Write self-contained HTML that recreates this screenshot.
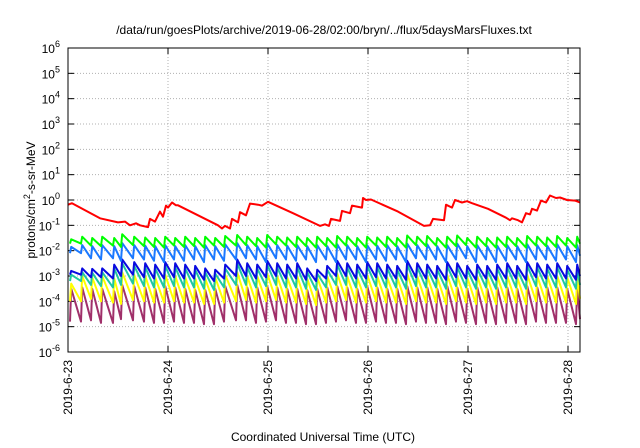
<!DOCTYPE html>
<html><head><meta charset="utf-8"><style>
body{margin:0;background:#fff;}
svg{display:block;font-family:"Liberation Sans",sans-serif;}
</style></head><body>
<svg id="chart" width="640" height="448" viewBox="0 0 640 448">
<text x="324" y="34" font-size="12" text-anchor="middle" fill="#000">/data/run/goesPlots/archive/2019-06-28/02:00/bryn/../flux/5daysMarsFluxes.txt</text>
<g id="grid"></g>
<g id="yticks"></g>
<g id="xticks"></g>
<g id="series"></g>
<rect x="68" y="48" width="512" height="304" fill="none" stroke="#000" stroke-width="1"/>
<text transform="translate(35,200) rotate(-90)" font-size="12" text-anchor="middle">protons/cm<tspan dy="-5" font-size="9">2</tspan><tspan dy="5">-s-sr-MeV</tspan></text>
<text x="323" y="441" font-size="12" text-anchor="middle">Coordinated Universal Time (UTC)</text>
</svg>
<script>
const yTickExps=[-6,-5,-4,-3,-2,-1,0,1,2,3,4,5,6];
const xTickDays=[23,24,25,26,27,28];
const xTickLabels=["2019-6-23","2019-6-24","2019-6-25","2019-6-26","2019-6-27","2019-6-28"];
const redTimes=[23.00,23.04,23.32,23.50,23.57,23.62,23.68,23.72,23.80,23.82,23.87,23.92,23.95,23.98,24.00,24.04,24.08,24.10,24.30,24.50,24.54,24.57,24.62,24.64,24.70,24.72,24.78,24.82,24.90,24.94,25.00,25.25,25.52,25.57,25.61,25.63,25.72,25.74,25.82,25.84,25.94,25.95,25.98,26.03,26.30,26.56,26.62,26.65,26.76,26.78,26.84,26.87,26.94,26.99,27.04,27.20,27.38,27.42,27.44,27.50,27.54,27.58,27.62,27.64,27.69,27.73,27.78,27.82,27.88,27.92,27.99,28.07,28.12];
const redValues=[0.65,0.75,0.19,0.13,0.14,0.10,0.12,0.10,0.085,0.18,0.14,0.35,0.22,0.6,0.5,0.8,0.62,0.62,0.25,0.1,0.075,0.095,0.075,0.18,0.13,0.33,0.25,0.72,0.65,0.6,0.85,0.3,0.095,0.11,0.095,0.18,0.15,0.37,0.3,0.6,0.5,1.2,1.0,1.05,0.35,0.095,0.1,0.18,0.16,0.65,0.5,1.0,0.8,0.9,0.75,0.45,0.2,0.16,0.19,0.16,0.13,0.3,0.27,0.45,0.38,0.95,0.8,1.5,1.2,1.25,1.0,0.95,0.8];
const eventTimes=[23.02,23.13,23.23,23.33,23.45,23.53,23.65,23.76,23.86,23.96,24.06,24.16,24.26,24.36,24.46,24.56,24.68,24.78,24.88,24.98,25.08,25.18,25.28,25.38,25.48,25.58,25.68,25.78,25.88,25.98,26.08,26.18,26.28,26.38,26.48,26.58,26.68,26.78,26.88,26.98,27.08,27.18,27.28,27.38,27.48,27.58,27.68,27.78,27.88,27.98,28.08];
const greenPeakLog=[-1.55,-1.45,-1.5,-1.45,-1.5,-1.35,-1.45,-1.48,-1.5,-1.45,-1.5,-1.45,-1.5,-1.45,-1.5,-1.42,-1.38,-1.45,-1.5,-1.38,-1.45,-1.48,-1.45,-1.5,-1.45,-1.5,-1.42,-1.45,-1.5,-1.45,-1.48,-1.45,-1.5,-1.4,-1.45,-1.42,-1.5,-1.45,-1.4,-1.5,-1.45,-1.5,-1.48,-1.45,-1.5,-1.42,-1.45,-1.48,-1.42,-1.5,-1.45];
const greenTroughLog=[-1.72,-1.8,-1.82,-1.8,-1.85,-1.78,-1.82,-1.85,-1.88,-1.8,-1.85,-1.82,-1.88,-1.8,-1.85,-1.8,-1.78,-1.82,-1.88,-1.75,-1.8,-1.85,-1.82,-1.88,-1.82,-1.88,-1.8,-1.82,-1.88,-1.8,-1.85,-1.82,-1.88,-1.78,-1.82,-1.8,-1.88,-1.82,-1.78,-1.88,-1.82,-1.88,-1.85,-1.82,-1.88,-1.8,-1.82,-1.85,-1.8,-1.88,-1.72];
const lightBluePeakLog=[-1.85,-1.78,-1.82,-1.78,-1.82,-1.7,-1.78,-1.8,-1.82,-1.78,-1.82,-1.78,-1.82,-1.78,-1.82,-1.75,-1.7,-1.78,-1.82,-1.7,-1.78,-1.8,-1.78,-1.82,-1.78,-1.82,-1.75,-1.78,-1.82,-1.78,-1.8,-1.78,-1.82,-1.72,-1.78,-1.75,-1.82,-1.78,-1.72,-1.82,-1.78,-1.82,-1.8,-1.78,-1.82,-1.75,-1.78,-1.8,-1.75,-1.82,-1.78];
const lightBlueTroughLog=[-2.1,-2.3,-2.35,-2.3,-2.4,-2.3,-2.35,-2.4,-2.45,-2.35,-2.4,-2.35,-2.45,-2.35,-2.4,-2.35,-2.3,-2.35,-2.45,-2.3,-2.35,-2.4,-2.35,-2.45,-2.35,-2.45,-2.35,-2.35,-2.45,-2.35,-2.4,-2.35,-2.45,-2.3,-2.35,-2.35,-2.45,-2.35,-2.3,-2.45,-2.35,-2.45,-2.4,-2.35,-2.45,-2.35,-2.35,-2.4,-2.35,-2.45,-2.2];
const darkBluePeakLog=[-2.8,-2.7,-2.72,-2.7,-2.55,-2.35,-2.45,-2.5,-2.55,-2.45,-2.5,-2.55,-2.6,-2.7,-2.75,-2.55,-2.35,-2.5,-2.55,-2.4,-2.5,-2.55,-2.5,-2.7,-2.75,-2.6,-2.4,-2.5,-2.55,-2.45,-2.5,-2.55,-2.6,-2.4,-2.5,-2.55,-2.6,-2.45,-2.5,-2.6,-2.55,-2.6,-2.55,-2.5,-2.6,-2.45,-2.5,-2.55,-2.5,-2.6,-2.55];
const darkBlueTroughLog=[-2.95,-3.05,-3.05,-3.1,-3.0,-2.95,-3.05,-3.1,-3.1,-3.05,-3.1,-3.1,-3.15,-3.2,-3.1,-3.0,-3.0,-3.1,-3.05,-3.0,-3.1,-3.1,-3.15,-3.2,-3.1,-3.0,-3.0,-3.1,-3.1,-3.05,-3.1,-3.1,-3.15,-3.05,-3.1,-3.1,-3.15,-3.05,-3.1,-3.15,-3.1,-3.15,-3.1,-3.1,-3.15,-3.05,-3.1,-3.1,-3.1,-3.15,-3.0];
const tealPeakLog=[-2.95,-2.85,-2.87,-2.85,-2.7,-2.5,-2.6,-2.65,-2.7,-2.6,-2.65,-2.7,-2.75,-2.85,-2.9,-2.7,-2.5,-2.65,-2.7,-2.55,-2.65,-2.7,-2.65,-2.85,-2.9,-2.75,-2.55,-2.65,-2.7,-2.6,-2.65,-2.7,-2.75,-2.55,-2.65,-2.7,-2.75,-2.6,-2.65,-2.75,-2.7,-2.75,-2.7,-2.65,-2.75,-2.6,-2.65,-2.7,-2.65,-2.75,-2.7];
const tealTroughLog=[-3.2,-3.35,-3.4,-3.45,-3.35,-3.3,-3.4,-3.45,-3.45,-3.4,-3.45,-3.45,-3.5,-3.55,-3.45,-3.35,-3.35,-3.45,-3.4,-3.35,-3.45,-3.45,-3.5,-3.55,-3.45,-3.35,-3.35,-3.45,-3.45,-3.4,-3.45,-3.45,-3.5,-3.4,-3.45,-3.45,-3.5,-3.4,-3.45,-3.5,-3.45,-3.5,-3.45,-3.45,-3.5,-3.4,-3.45,-3.45,-3.45,-3.5,-3.35];
const yellowPeakLog=[-3.3,-3.0,-3.05,-3.0,-3.1,-2.85,-2.95,-3.0,-3.05,-2.95,-3.0,-3.05,-3.1,-3.1,-3.05,-2.95,-2.85,-3.0,-3.0,-2.9,-3.0,-3.05,-3.0,-3.1,-3.05,-3.0,-2.9,-3.0,-3.05,-2.95,-3.0,-3.05,-3.05,-2.9,-3.0,-3.0,-3.05,-2.95,-3.0,-3.05,-3.0,-3.05,-3.0,-3.0,-3.05,-2.95,-3.0,-3.0,-3.0,-3.05,-3.0];
const yellowTroughLog=[-4.0,-3.9,-4.0,-4.05,-4.1,-3.95,-4.0,-4.05,-4.05,-4.0,-4.05,-4.05,-4.1,-4.1,-4.05,-4.0,-3.95,-4.05,-4.0,-3.95,-4.05,-4.05,-4.1,-4.15,-4.05,-4.0,-3.95,-4.05,-4.05,-4.0,-4.05,-4.05,-4.1,-4.0,-4.05,-4.05,-4.1,-4.0,-4.05,-4.1,-4.05,-4.1,-4.05,-4.05,-4.1,-4.0,-4.05,-4.05,-4.05,-4.1,-3.9];
const purplePeakLog=[-3.5,-3.45,-3.5,-3.5,-3.6,-3.35,-3.4,-3.45,-3.5,-3.4,-3.45,-3.5,-3.55,-3.55,-3.5,-3.4,-3.35,-3.45,-3.45,-3.4,-3.45,-3.5,-3.5,-3.55,-3.5,-3.45,-3.4,-3.45,-3.5,-3.4,-3.45,-3.5,-3.5,-3.4,-3.45,-3.45,-3.5,-3.4,-3.45,-3.5,-3.45,-3.5,-3.45,-3.45,-3.5,-3.4,-3.45,-3.45,-3.45,-3.5,-3.45];
const purpleTroughLog=[-4.8,-4.75,-4.85,-4.85,-4.7,-4.75,-4.8,-4.85,-4.85,-4.8,-4.85,-4.85,-4.9,-4.9,-4.8,-4.75,-4.75,-4.85,-4.8,-4.75,-4.85,-4.85,-4.9,-4.9,-4.85,-4.8,-4.75,-4.85,-4.85,-4.8,-4.85,-4.85,-4.9,-4.8,-4.85,-4.85,-4.9,-4.8,-4.85,-4.9,-4.85,-4.9,-4.85,-4.85,-4.9,-4.8,-4.85,-4.85,-4.85,-4.9,-4.7];

const X0=68,X1=580,Y0=48,Y1=352,DAY0=23,DAYEND=28.12,E_MIN=-6,E_MAX=6;
function xs(d){return X0+(d-DAY0)/(DAYEND-DAY0)*(X1-X0);}
function yLog(l){return Y1-(l-E_MIN)/(E_MAX-E_MIN)*(Y1-Y0);}
function ys(v){return yLog(Math.log10(v));}
const NS="http://www.w3.org/2000/svg";
function mk(tag,attrs,parent){const e=document.createElementNS(NS,tag);for(const k in attrs)e.setAttribute(k,attrs[k]);parent.appendChild(e);return e;}
const grid=document.getElementById('grid'),yt=document.getElementById('yticks'),xt=document.getElementById('xticks'),sg=document.getElementById('series');

yTickExps.forEach(e=>{
  const y=yLog(e);
  if(e>E_MIN&&e<E_MAX){
    const g=mk('line',{x1:X0,x2:X1,y1:y,y2:y,stroke:'#b0b0b0','stroke-width':1,'stroke-dasharray':'1,2'},grid);
    
    
  }
  const t1=mk('line',{x1:X0,x2:X0+6,y1:y,y2:y,stroke:'#000'},yt);
  
  
  const t2=mk('line',{x1:X1-6,x2:X1,y1:y,y2:y,stroke:'#000'},yt);
  
  
  const tx=mk('text',{x:60,y:y+5,'font-size':12,'text-anchor':'end'},yt);
  
  
  tx.textContent='10';
  const sup=mk('tspan',{dy:-6,'font-size':9},tx);
  sup.textContent=String(e);
});

xTickDays.forEach((d,i)=>{
  const x=xs(d);
  if(d>DAY0){
    const g=mk('line',{x1:x,x2:x,y1:Y0,y2:Y1,stroke:'#b0b0b0','stroke-width':1,'stroke-dasharray':'1,2'},grid);
    
    
  }
  const t1=mk('line',{x1:x,x2:x,y1:Y1-6,y2:Y1,stroke:'#000'},xt);
  
  
  const t2=mk('line',{x1:x,x2:x,y1:Y0,y2:Y0+6,stroke:'#000'},xt);
  
  
  const tx=mk('text',{transform:'translate('+(x+4)+',360) rotate(-90)','font-size':12,'text-anchor':'end'},xt);
  
  
  tx.textContent=xTickLabels[i];
});

function sawPath(peaks,troughs){
  const pts=[];
  for(let i=0;i<eventTimes.length;i++){
    const before=i===0?troughs[0]:troughs[i-1];
    pts.push([xs(eventTimes[i]),yLog(before)]);
    pts.push([xs(eventTimes[i]+0.012),yLog(peaks[i])]);
  }
  pts.push([xs(DAYEND),yLog(troughs[troughs.length-1])]);
  return 'M'+pts.map(p=>p[0].toFixed(1)+','+p[1].toFixed(1)).join('L');
}
const seriesDefs=[
  ['series-purple',purplePeakLog,purpleTroughLog,'#a0306a'],
  ['series-yellow',yellowPeakLog,yellowTroughLog,'#ffff00'],
  ['series-teal',tealPeakLog,tealTroughLog,'#20c8a0'],
  ['series-dark-blue',darkBluePeakLog,darkBlueTroughLog,'#0a0ae0'],
  ['series-light-blue',lightBluePeakLog,lightBlueTroughLog,'#1a78ff'],
  ['series-green',greenPeakLog,greenTroughLog,'#00ff00']
];
seriesDefs.forEach(s=>{
  const p=mk('path',{d:sawPath(s[1],s[2]),fill:'none',stroke:s[3],'stroke-width':2,'stroke-linejoin':'round'},sg);
  
  
});
const redD='M'+redTimes.map((t,i)=>xs(t).toFixed(1)+','+ys(redValues[i]).toFixed(1)).join('L');
const rp=mk('path',{d:redD,fill:'none',stroke:'#ff0000','stroke-width':2,'stroke-linejoin':'round'},sg);


</script>
</body></html>
